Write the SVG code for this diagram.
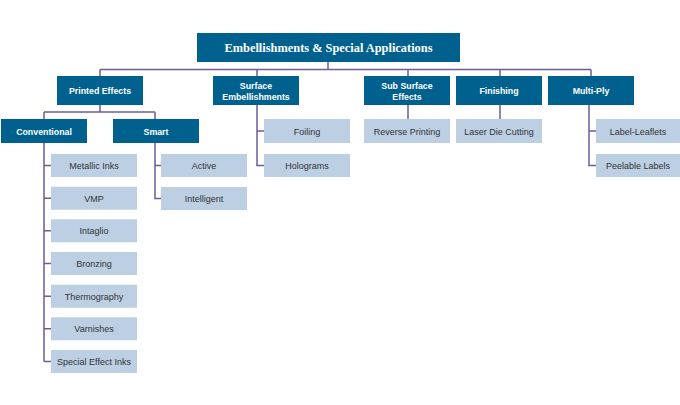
<svg xmlns="http://www.w3.org/2000/svg" width="680" height="405" viewBox="0 0 680 405">
<style>
.d{fill:#00618e}
.l{fill:#bccfe3}
.tw{font-family:"Liberation Sans",Arial,sans-serif;font-size:8.8px;font-weight:bold;fill:#ffffff;text-anchor:middle}
.tr{font-family:"Liberation Serif","Times New Roman",serif;font-size:12.5px;font-weight:bold;fill:#ffffff;text-anchor:middle}
.tl{font-family:"Liberation Sans",Arial,sans-serif;font-size:9px;fill:#333333;text-anchor:middle}
.c{fill:none;stroke:#6e5c99;stroke-width:1.5}
</style>
<rect width="680" height="405" fill="#ffffff"/>
<g id="connectors" class="c">
<path d="M328 62V69.5M100 69.5H591M100 69.5V76M257 69.5V76M408 69.5V76M500 69.5V76M591 69.5V76"/>
<path d="M100 105V112M44 112H155M44 112V119M155 112V119"/>
<path d="M44 143V361.5M44 165.5H51M44 198.2H51M44 230.8H51M44 263.5H51M44 296.2H51M44 328.8H51M44 361.5H51"/>
<path d="M155 143V198.5H161M155 165.5H161"/>
<path d="M257 105V165.5H264M257 131H264"/>
<path d="M408 105V119M500 105V119"/>
<path d="M589 105V165.5H596M589 131H596"/>
</g>
<g id="root"><rect class="d" x="197" y="33" width="263" height="29"/><text class="tr" x="328.5" y="51.5" textLength="208" lengthAdjust="spacingAndGlyphs">Embellishments &amp; Special Applications</text></g>
<g id="printed-effects"><rect class="d" x="57" y="76" width="86" height="29"/><text class="tw" x="100" y="94">Printed Effects</text></g>
<g id="surface-embellishments"><rect class="d" x="213" y="76" width="86" height="29"/><text class="tw" x="256" y="88.5">Surface</text><text class="tw" x="256" y="99.5">Embellishments</text></g>
<g id="sub-surface-effects"><rect class="d" x="364" y="76" width="86" height="29"/><text class="tw" x="407" y="88.5">Sub Surface</text><text class="tw" x="407" y="99.5">Effects</text></g>
<g id="finishing"><rect class="d" x="456" y="76" width="86" height="29"/><text class="tw" x="499" y="94">Finishing</text></g>
<g id="multi-ply"><rect class="d" x="548" y="76" width="86" height="29"/><text class="tw" x="591" y="94">Multi-Ply</text></g>
<g id="conventional"><rect class="d" x="1" y="119" width="86" height="24"/><text class="tw" x="44" y="134.5">Conventional</text></g>
<g id="smart"><rect class="d" x="113" y="119" width="86" height="24"/><text class="tw" x="156" y="134.5">Smart</text></g>
<g id="metallic-inks"><rect class="l" x="51" y="154" width="86" height="23"/><text class="tl" x="94" y="169">Metallic Inks</text></g>
<g id="vmp"><rect class="l" x="51" y="186.7" width="86" height="23"/><text class="tl" x="94" y="201.7">VMP</text></g>
<g id="intaglio"><rect class="l" x="51" y="219.3" width="86" height="23"/><text class="tl" x="94" y="234.3">Intaglio</text></g>
<g id="bronzing"><rect class="l" x="51" y="252" width="86" height="23"/><text class="tl" x="94" y="267">Bronzing</text></g>
<g id="thermography"><rect class="l" x="51" y="284.7" width="86" height="23"/><text class="tl" x="94" y="299.7">Thermography</text></g>
<g id="varnishes"><rect class="l" x="51" y="317.3" width="86" height="23"/><text class="tl" x="94" y="332.3">Varnishes</text></g>
<g id="special-effect-inks"><rect class="l" x="51" y="350" width="86" height="23"/><text class="tl" x="94" y="365">Special Effect Inks</text></g>
<g id="active"><rect class="l" x="161" y="154" width="86" height="23"/><text class="tl" x="204" y="169">Active</text></g>
<g id="intelligent"><rect class="l" x="161" y="187" width="86" height="23"/><text class="tl" x="204" y="202">Intelligent</text></g>
<g id="foiling"><rect class="l" x="264" y="119" width="86" height="24"/><text class="tl" x="307" y="134.5">Foiling</text></g>
<g id="holograms"><rect class="l" x="264" y="154" width="86" height="23"/><text class="tl" x="307" y="169">Holograms</text></g>
<g id="reverse-printing"><rect class="l" x="364" y="119" width="86" height="24"/><text class="tl" x="407" y="134.5">Reverse Printing</text></g>
<g id="laser-die-cutting"><rect class="l" x="456" y="119" width="86" height="24"/><text class="tl" x="499" y="134.5">Laser Die Cutting</text></g>
<g id="label-leaflets"><rect class="l" x="596" y="119" width="84" height="24"/><text class="tl" x="638" y="134.5">Label-Leaflets</text></g>
<g id="peelable-labels"><rect class="l" x="596" y="154" width="84" height="23"/><text class="tl" x="638" y="169">Peelable Labels</text></g>
</svg>
